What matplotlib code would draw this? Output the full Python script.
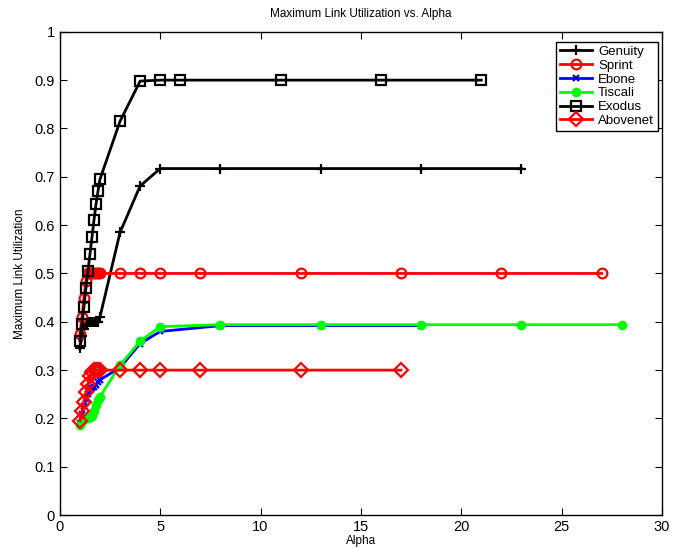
import matplotlib
matplotlib.use("Agg")
import matplotlib.pyplot as plt
import numpy as np

plt.rcParams["font.family"] = ["Liberation Sans", "DejaVu Sans"]

# Valores de alpha (passo fino de 1 a 2).
alpha_fino = [1.0, 1.1, 1.2, 1.3, 1.4, 1.5, 1.6, 1.7, 1.8, 1.9, 2.0]

genuity_x = alpha_fino + [3, 4, 5, 8, 13, 18, 23]
genuity_y = [0.345, 0.37, 0.385, 0.395, 0.40, 0.40, 0.40, 0.40, 0.40, 0.40, 0.41,
             0.585, 0.681, 0.717, 0.717, 0.717, 0.717, 0.717]

sprint_x = alpha_fino + [3, 4, 5, 7, 12, 17, 22, 27]
sprint_y = [0.375, 0.41, 0.45, 0.485, 0.50, 0.50, 0.50, 0.50, 0.50, 0.50, 0.50,
            0.50, 0.50, 0.50, 0.50, 0.50, 0.50, 0.50, 0.50]

ebone_x = alpha_fino + [3, 4, 5, 8, 13, 18]
ebone_y = [0.19, 0.21, 0.225, 0.24, 0.25, 0.26, 0.262, 0.265, 0.27, 0.275, 0.28,
           0.305, 0.355, 0.38, 0.392, 0.392, 0.392]

tiscali_x = alpha_fino + [3, 4, 5, 8, 13, 18, 23, 28]
tiscali_y = [0.187, 0.195, 0.198, 0.20, 0.20, 0.202, 0.205, 0.215, 0.228, 0.238, 0.245,
             0.31, 0.36, 0.39, 0.394, 0.394, 0.394, 0.394, 0.394]

exodus_x = alpha_fino + [3, 4, 5, 6, 11, 16, 21]
exodus_y = [0.36, 0.395, 0.43, 0.47, 0.505, 0.54, 0.575, 0.61, 0.643, 0.67, 0.695,
            0.815, 0.898, 0.90, 0.90, 0.90, 0.90, 0.90]

abovenet_x = alpha_fino + [3, 4, 5, 7, 12, 17]
abovenet_y = [0.195, 0.215, 0.235, 0.255, 0.272, 0.287, 0.297, 0.30, 0.30, 0.30, 0.30,
              0.30, 0.30, 0.30, 0.30, 0.30, 0.30]

fig = plt.figure(figsize=(6.88, 5.48), dpi=100)
ax = fig.add_axes([0.087, 0.060, 0.875, 0.882])

estilo = dict(linewidth=2.0, markersize=7, markeredgewidth=1.6, markerfacecolor="none")

ax.plot(genuity_x, genuity_y, color="black", marker="+", label="Genuity", **estilo)
ax.plot(sprint_x, sprint_y, color="red", marker="o", label="Sprint", **estilo)
ax.plot(ebone_x, ebone_y, color="blue", marker="x", markersize=4, linewidth=2.0,
        markeredgewidth=1.6, label="Ebone")
ax.plot(tiscali_x, tiscali_y, color="#00ff00", marker="o", markersize=6, linewidth=2.0,
        label="Tiscali")
ax.plot(exodus_x, exodus_y, color="black", marker="s", label="Exodus", **estilo)
ax.plot(abovenet_x, abovenet_y, color="red", marker="D", label="Abovenet", **estilo)

ax.set_xlim(0, 30)
ax.set_ylim(0, 1)
ax.set_xticks(np.arange(0, 31, 5))
ax.set_yticks(np.arange(0, 1.01, 0.1))
ax.set_yticklabels(["0", "0.1", "0.2", "0.3", "0.4", "0.5", "0.6", "0.7", "0.8", "0.9", "1"])
ax.tick_params(direction="in", top=True, right=True, labelsize=10.5, length=5, width=0.8)
for s in ax.spines.values():
    s.set_linewidth(1.0)

ax.set_title("Maximum Link Utilization vs. Alpha", fontsize=8.5, pad=11)
ax.set_xlabel("Alpha", fontsize=8.5, labelpad=1)
ax.set_ylabel("Maximum Link Utilization", fontsize=8.5, labelpad=6)

leg = ax.legend(loc="upper right", bbox_to_anchor=(0.998, 0.985), fontsize=9.5,
                frameon=True, fancybox=False, edgecolor="black", framealpha=1,
                borderpad=0.3, labelspacing=0.12, handlelength=2.4, handletextpad=0.5,
                borderaxespad=0.2)
leg.get_frame().set_linewidth(1.0)

fig.savefig("out.png", dpi=100)
